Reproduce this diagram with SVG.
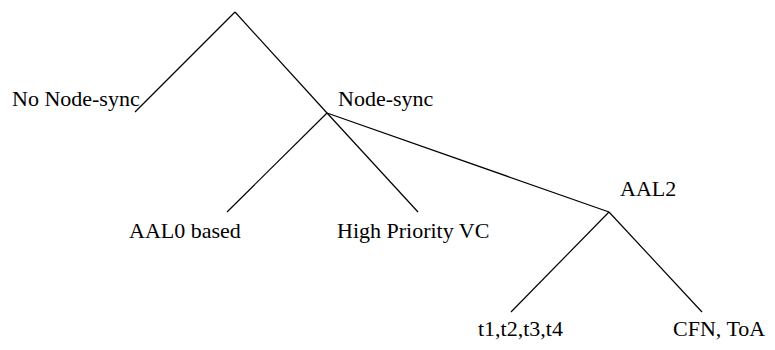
<svg xmlns="http://www.w3.org/2000/svg" width="775" height="350" viewBox="0 0 775 350">
<style>
text{font-family:"Liberation Serif","Times New Roman",serif;font-size:22px;fill:#000}
line{stroke:#000;stroke-width:1.2}
</style>
<rect width="775" height="350" fill="#fff"/>
<g id="connectors">
<line x1="235" y1="12" x2="135" y2="112"/>
<line x1="235" y1="12" x2="327" y2="113"/>
<line x1="327" y1="113" x2="227" y2="212"/>
<line x1="327" y1="113" x2="418" y2="212"/>
<line x1="327" y1="113" x2="609" y2="212"/>
<line x1="609" y1="212" x2="511" y2="312"/>
<line x1="609" y1="212" x2="702" y2="312"/>
</g>
<g id="no-node-sync"><text x="12" y="106">No Node-sync</text></g>
<g id="node-sync"><text x="338" y="106">Node-sync</text></g>
<g id="aal0"><text x="129" y="238">AAL0 based</text></g>
<g id="high-priority"><text x="337" y="238">High Priority VC</text></g>
<g id="aal2"><text x="620" y="196">AAL2</text></g>
<g id="t1t4"><text x="478" y="336">t1,t2,t3,t4</text></g>
<g id="cfn"><text x="673" y="336">CFN, ToA</text></g>
</svg>
